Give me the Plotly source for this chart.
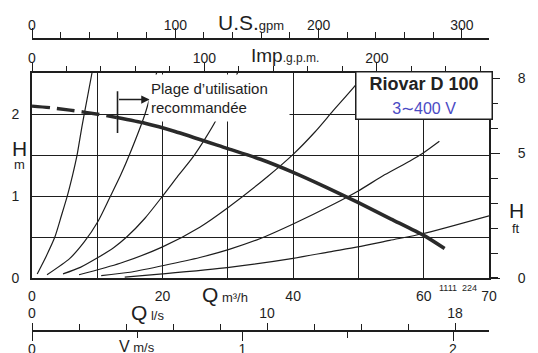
import plotly.graph_objects as go

# ---------------- data ----------------
# pump curve Q [m3/h] -> H [m]
pump_q_dashed = [0.0, 2.8, 5.8, 10.1, 13.0]
pump_h_dashed = [2.10, 2.08, 2.05, 2.00, 1.96]
pump_q = [13.0, 17.3, 21.9, 30.0, 35.0, 40.0, 45.0, 50.0, 55.0, 60.0, 63.2]
pump_h = [1.96, 1.89, 1.79, 1.58, 1.45, 1.29, 1.11, 0.92, 0.72, 0.52, 0.36]

# system curves (thin lines)
sys_q = [
    [0.8, 2.2, 3.5, 4.5, 5.4, 6.2, 6.9, 7.65, 8.4, 9.2],
    [2.3, 5.8, 8.0, 10.1, 11.9, 13.6, 15.0, 17.3, 19.1],
    [4.75, 7.4, 10.1, 12.5, 14.5, 17.3, 20.0, 22.2, 24.5, 26.5, 28.2, 31.5],
    [7.2, 13.5, 20.0, 25.7, 30.2, 36.1, 40.0, 43.3, 46.1, 49.4, 51.0],
    [10.6, 15.0, 20.0, 25.7, 30.2, 34.9, 40.0, 46.4, 49.9, 54.0, 57.9, 59.8, 62.4],
    [14.2, 20.0, 30.2, 40.0, 45.6, 49.9, 54.8, 59.8, 70.0],
]
sys_h = [
    [0.05, 0.27, 0.50, 0.76, 1.00, 1.25, 1.50, 1.85, 2.17, 2.51],
    [0.04, 0.24, 0.44, 0.69, 0.98, 1.26, 1.52, 2.00, 2.51],
    [0.05, 0.13, 0.25, 0.37, 0.50, 0.73, 1.00, 1.23, 1.46, 1.70, 1.93, 2.51],
    [0.04, 0.18, 0.38, 0.62, 0.87, 1.24, 1.51, 1.78, 2.04, 2.34, 2.51],
    [0.03, 0.07, 0.15, 0.25, 0.35, 0.48, 0.66, 0.91, 1.06, 1.26, 1.43, 1.52, 1.67],
    [0.01, 0.05, 0.13, 0.24, 0.32, 0.38, 0.46, 0.54, 0.76],
]

recommended_start_q = 13.1   # start of recommended range

# axis tick values / labels
q_ticks = [0, 10, 20, 30, 40, 50, 60, 70]
q_labels = ["0", "", "20", "", "40", "", "60", "70"]
h_ticks = [0, 0.5, 1, 1.5, 2]
h_labels = ["0", "", "1", "", "2"]
ft_ticks = [0, 5, 8]
usgpm_ticks = [0, 100, 200, 300]
impgpm_ticks = [0, 100, 200]
ls_ticks = [0, 10, 18]
v_ticks = [0, 1, 2]

# ---------------- figure ----------------
W, H = 538, 353
OFF = 8                       # page body margin of the html page
PLOT_L, PLOT_R = 32, 489      # plot area in window pixels
L = PLOT_L - OFF
R = W - (PLOT_R - OFF)
INK = "#1e1e1e"
FONT = "Liberation Sans, Arial, sans-serif"


def px(x):
    return (x - PLOT_L) / (PLOT_R - PLOT_L)


def py(y):
    return 1 - (y - OFF) / H


fig = go.Figure()

for qs, hs in zip(sys_q, sys_h):
    fig.add_trace(go.Scatter(x=qs, y=hs, mode="lines",
                             line=dict(color=INK, width=1.2, shape="spline", smoothing=0.7),
                             hoverinfo="skip", showlegend=False))

fig.add_trace(go.Scatter(x=pump_q_dashed, y=pump_h_dashed, mode="lines",
                         line=dict(color="#2a2a2a", width=3.4, dash="18px,7px", shape="spline"),
                         showlegend=False))
fig.add_trace(go.Scatter(x=pump_q, y=pump_h, mode="lines",
                         line=dict(color="#2a2a2a", width=3.6, shape="spline", smoothing=0.6),
                         showlegend=False))

# invisible traces to bind secondary axes
for xa, ya in [("x2", "y"), ("x3", "y"), ("x4", "y"), ("x5", "y"), ("x", "y2")]:
    fig.add_trace(go.Scatter(x=[None], y=[None], xaxis=xa, yaxis=ya, showlegend=False,
                             hoverinfo="skip"))

H_MAX = 2.51
ydom = [py(278), py(72.5)]

axis_common = dict(showline=True, linecolor=INK, zeroline=False, automargin=False,
                   tickfont=dict(size=14, color=INK, family=FONT), tickcolor=INK)

fig.update_layout(
    width=W, height=H,
    margin=dict(l=L, r=R, t=0, b=0, autoexpand=False),
    paper_bgcolor="white", plot_bgcolor="white",
    font=dict(family=FONT, color=INK),
    xaxis=dict(domain=[0, 1], range=[0, 70], tickvals=q_ticks, ticktext=q_labels,
               showgrid=True, gridcolor=INK, gridwidth=1.3, linewidth=2, mirror=True,
               ticks="", ticklabelstandoff=4, anchor="y", **axis_common),
    yaxis=dict(domain=ydom, range=[0, H_MAX], tickvals=h_ticks, ticktext=h_labels,
               showgrid=True, gridcolor=INK, gridwidth=1.3, linewidth=2, mirror=True,
               ticks="", ticklabelstandoff=8, anchor="x", **axis_common),
    yaxis2=dict(overlaying="y", side="right", anchor="x", range=[0, H_MAX * 3.28084],
                tickvals=ft_ticks, ticks="outside", ticklen=9, linewidth=2,
                minor=dict(dtick=1, tick0=0, ticks="outside", ticklen=7, tickcolor=INK),
                showgrid=False, ticklabelstandoff=15, **axis_common),
    xaxis2=dict(overlaying="x", anchor="free", position=py(39), side="top",
                range=[0, 318.9], tickvals=usgpm_ticks, ticks="outside", ticklen=10,
                linewidth=1.5, ticklabelstandoff=-7,
                minor=dict(dtick=20, tick0=0, ticks="outside", ticklen=6, tickcolor=INK),
                showgrid=False, **axis_common),
    xaxis3=dict(overlaying="x", anchor="free", position=py(71.5), side="top",
                range=[0, 265.0], tickvals=impgpm_ticks, ticks="outside", ticklen=8,
                linewidth=1.5, ticklabelstandoff=-6,
                minor=dict(dtick=20, tick0=0, ticks="outside", ticklen=5, tickcolor=INK),
                showgrid=False, **axis_common),
    xaxis4=dict(overlaying="x", anchor="free", position=py(331), side="top",
                range=[0, 70 / 3.6], tickvals=ls_ticks, ticks="outside", ticklen=7,
                linewidth=1.5,
                minor=dict(dtick=2, tick0=0, ticks="outside", ticklen=6, tickcolor=INK),
                showgrid=False, **axis_common),
    xaxis5=dict(overlaying="x", anchor="free", position=py(331), side="bottom",
                range=[0, 2.171], tickvals=v_ticks, ticks="outside", ticklen=9,
                linewidth=1.5, ticklabelstandoff=-4,
                minor=dict(dtick=0.5, tick0=0, ticks="outside", ticklen=6, tickcolor=INK),
                showgrid=False, **axis_common),
)

ann = []


def txt(x, y, text, xanchor="left", yanchor="middle", size=14, **kw):
    ann.append(dict(x=px(x), y=py(y), xref="paper", yref="paper", text=text,
                    showarrow=False, xanchor=xanchor, yanchor=yanchor,
                    font=dict(size=size, color=INK, family=FONT), **kw))


txt(216, 22, "<span style='font-size:21px'>U.S.</span><span style='font-size:13px'>gpm</span>")
txt(249, 56, "<span style='font-size:19px'>Imp</span><span style='font-size:12px'>.g.p.m.</span>")
txt(200, 294, "<span style='font-size:21px'>Q</span><span style='font-size:13px'> m³/h</span>")
txt(129, 312, "<span style='font-size:21px'>Q</span><span style='font-size:13px'> l/s</span>")
txt(117, 346, "<span style='font-size:16px'>V</span><span style='font-size:13px'> m/s</span>")
txt(19, 148, "H", xanchor="center", size=21)
txt(19, 164, "m", xanchor="center", size=13)
txt(516, 210, "H", xanchor="center", size=21)
txt(516, 229, "ft", xanchor="center", size=13)
txt(437, 288, "1111  224", size=9)

# recommended range label (white background hides lines behind it)
ann.append(dict(x=px(148), y=py(73.5), xref="paper", yref="paper",
                text="Plage d’utilisation<br>recommandée", showarrow=False,
                xanchor="left", yanchor="top", align="left", valign="middle",
                width=136, height=42, bgcolor="white", borderpad=2,
                font=dict(size=15, color=INK, family=FONT)))

# model box
ann.append(dict(x=px(423.5), y=py(96), xref="paper", yref="paper",
                text="<b>Riovar D 100</b><br><span style='color:#4a4ac4;font-size:16px'>3∼400 V</span>",
                showarrow=False, xanchor="center", yanchor="middle", align="center",
                width=133, height=44, bgcolor="white", bordercolor=INK, borderwidth=1.5,
                borderpad=1, font=dict(size=18, color="#222", family=FONT)))

# arrow marking recommended range
ann.append(dict(x=recommended_start_q + 4.9, y=2.18, xref="x", yref="y",
                ax=recommended_start_q, ay=2.18, axref="x", ayref="y", text="",
                showarrow=True, arrowhead=2, arrowsize=1.1, arrowwidth=1.5,
                arrowcolor=INK))

fig.update_layout(annotations=ann)

fig.add_shape(type="line", xref="x", yref="y", x0=recommended_start_q, x1=recommended_start_q,
              y0=1.77, y1=2.28, line=dict(color=INK, width=1.6), layer="above")
# bottom axis line runs a little past the frame, as in the original sheet
fig.add_shape(type="line", xref="paper", yref="y", x0=1, x1=px(498), y0=0, y1=0,
              line=dict(color=INK, width=2), layer="above")

fig.write_html("out.html")
